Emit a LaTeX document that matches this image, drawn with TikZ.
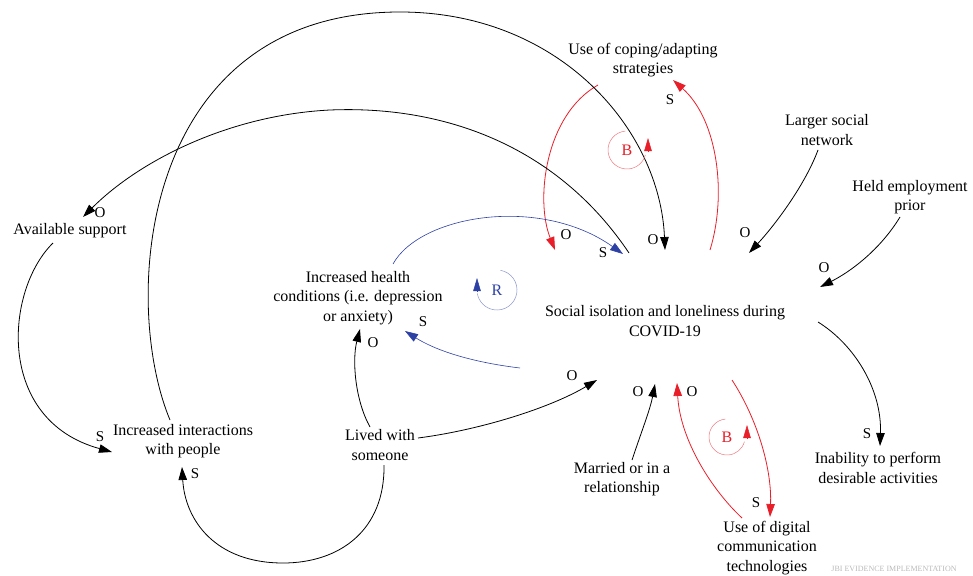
\documentclass[tikz,border=0pt]{standalone}
\usepackage{fontspec}
\setmainfont{Liberation Serif}
\usetikzlibrary{arrows.meta}
\definecolor{loopred}{RGB}{232,30,40}
\definecolor{loopblue}{RGB}{45,65,165}
\tikzset{cldmap/.style={x=1pt,y=-1pt,font=\fontsize{16}{19.5}\selectfont},
  var/.style={align=center,inner sep=0pt},
  link/.style={line width=0.8pt,-{Triangle[length=13pt,width=8.5pt]}},
  pol/.style={inner sep=0pt,font=\fontsize{15}{15}\selectfont},
  loopsign/.style={line width=0.5pt},
  looptip/.style={line width=0.5pt,-{Triangle[length=13pt,width=7.5pt]}}}

\begin{document}
\begin{tikzpicture}[cldmap]
\useasboundingbox (0,0) rectangle (973,575);

% variables
\node[var] (iso) at (665,321) {Social isolation and loneliness during\\COVID-19};
\node[var] (cope) at (643,60) {Use of coping/adapting\\strategies};
\node[var] (larger) at (827,130) {Larger social\\network};
\node[var] (held) at (910,197) {Held employment\\prior};
\node[var] (inab) at (878,468) {Inability to perform\\desirable activities};
\node[var] (digital) at (767,548) {Use of digital\\communication\\technologies};
\node[var] (married) at (622,479) {Married or in a\\relationship};
\node[var] (lived) at (380,445) {Lived with\\someone};
\node[var] (health) at (358,298) {Increased health\\conditions (i.e. depression\\or anxiety)};
\node[var] (avail) at (70,231) {Available support};
\node[var] (inter) at (183,441) {Increased interactions\\with people};
\node[inner sep=0pt,text=gray!55,font=\fontsize{8}{8}\selectfont] (jbi) at (894,569) {JBI EVIDENCE IMPLEMENTATION};

% links
\draw[link,loopred] ([shift={(-45,25)}]cope.center) .. controls (545,115) and (535,200) .. ([shift={(-110,-71)}]iso.center);
\draw[link,loopred] ([shift={(45,-71)}]iso.center) .. controls (727,195) and (718,120) .. ([shift={(30,20)}]cope.center);
\draw[link] ([shift={(-13,-21)}]inter.center) .. controls (120,300) and (140,12) .. (400,12)
      .. controls (560,12) and (660,130) .. ([shift={(0,-71)}]iso.center);
\draw[link] ([shift={(-36,-68)}]iso.center) .. controls (560,150) and (450,105) .. (330,110)
      .. controls (230,115) and (140,160) .. ([shift={(13,-14)}]avail.center);
\draw[link,loopblue,line width=0.6pt] ([shift={(35,-34)}]health.center) .. controls (420,215) and (540,195) .. ([shift={(-42,-67)}]iso.center);
\draw[link,loopblue,line width=0.6pt] ([shift={(-145,47)}]iso.center) .. controls (470,362) and (435,350) .. ([shift={(47,33)}]health.center);
\draw[link] ([shift={(-9,20)}]larger.center) .. controls (805,185) and (775,225) .. ([shift={(84,-68)}]iso.center);
\draw[link] ([shift={(-10,20)}]held.center) .. controls (880,250) and (850,272) .. ([shift={(155,-34)}]iso.center);
\draw[link] ([shift={(153,1)}]iso.center) .. controls (855,345) and (882,390) .. ([shift={(2,-22)}]inab.center);
\draw[link,loopred] ([shift={(67,59)}]iso.center) .. controls (758,420) and (772,470) .. ([shift={(3,-31)}]digital.center);
\draw[link,loopred] ([shift={(-25,-30)}]digital.center) .. controls (712,490) and (680,440) .. ([shift={(12,62)}]iso.center);
\draw[link] ([shift={(10,-19)}]married.center) .. controls (642,430) and (650,410) .. ([shift={(-10,63)}]iso.center);
\draw[link] ([shift={(38,-7)}]lived.center) .. controls (480,430) and (550,408) .. ([shift={(-68,59)}]iso.center);
\draw[link] ([shift={(-10,-18)}]lived.center) .. controls (355,400) and (352,360) .. ([shift={(2,31)}]health.center);
\draw[link] ([shift={(4,20)}]lived.center) .. controls (385,530) and (340,563) .. (283,563)
      .. controls (215,563) and (185,520) .. ([shift={(-1,26)}]inter.center);
\draw[link] ([shift={(-17,12)}]avail.center) .. controls (5,290) and (-5,420) .. ([shift={(-71,11)}]inter.center);

% polarities
\node[pol] (pCopeIso) at (566,235) {O};
\node[pol] (pHealthIso) at (603,253) {S};
\node[pol] (pInterIso) at (653,240) {O};
\node[pol] (pIsoCope) at (670,100) {S};
\node[pol] (pLargerIso) at (745,233) {O};
\node[pol] (pHeldIso) at (824,268) {O};
\node[pol] (pIsoInab) at (867,434) {S};
\node[pol] (pMarriedIso) at (638,392) {O};
\node[pol] (pDigitalIso) at (692,392) {O};
\node[pol] (pIsoDigital) at (756,503) {S};
\node[pol] (pLivedIso) at (572,376) {O};
\node[pol] (pIsoHealth) at (423,322) {S};
\node[pol] (pLivedHealth) at (373,343) {O};
\node[pol] (pIsoAvail) at (100,213) {O};
\node[pol] (pAvailInter) at (100,437) {S};
\node[pol] (pLivedInter) at (195,474) {S};

% loop markers
\node[text=loopred] (loopB1) at (627,150) {B};
\draw[loopsign,loopred!60] ([shift={(-95:19)}]loopB1.center) arc[start angle=-95,end angle=-345,radius=19];
\draw[looptip,loopred] ([shift={(21,2)}]loopB1.center) -- ++(0,-14);
\node[text=loopblue] (loopR) at (497,290) {R};
\draw[loopsign,loopblue!55] ([shift={(-80:20)}]loopR.center) arc[start angle=-80,end angle=170,radius=20];
\draw[looptip,loopblue] ([shift={(-20,2)}]loopR.center) -- ++(0,-14);
\node[text=loopred] (loopB2) at (727,437) {B};
\draw[loopsign,loopred!60] ([shift={(-95:18)}]loopB2.center) arc[start angle=-95,end angle=-345,radius=18];
\draw[looptip,loopred] ([shift={(20,2)}]loopB2.center) -- ++(0,-14);

\end{tikzpicture}
\end{document}
